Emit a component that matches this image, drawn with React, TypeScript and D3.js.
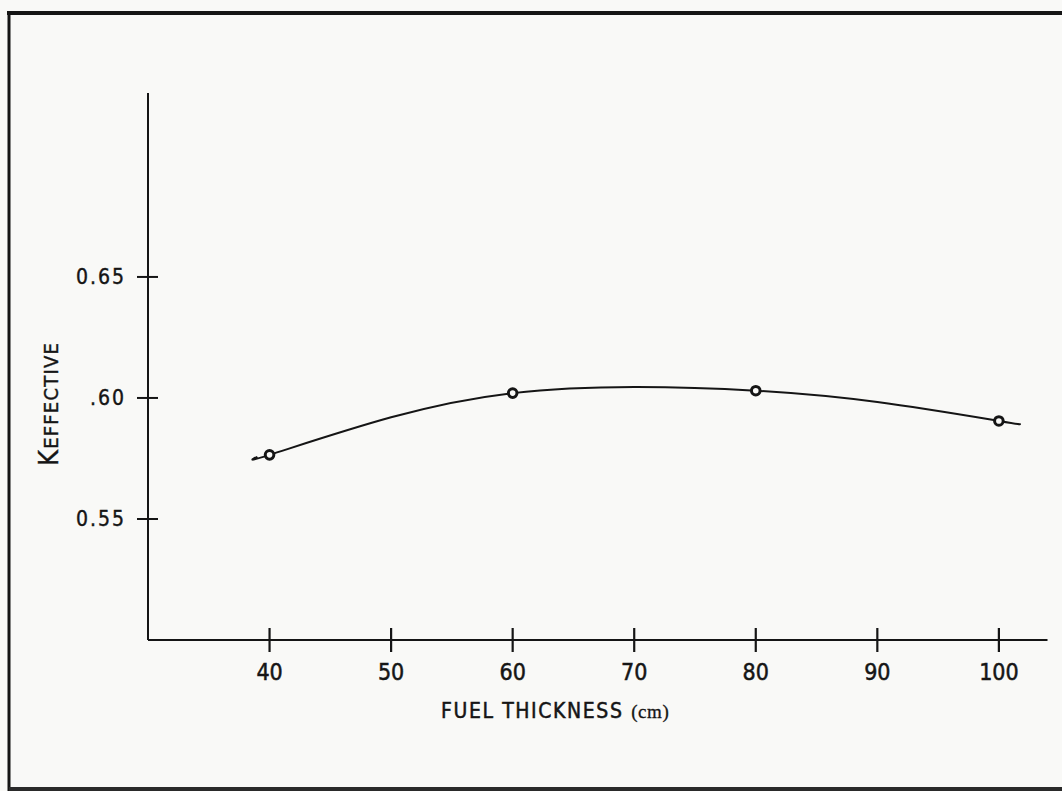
import React from 'react';
import * as d3 from 'd3';

// Fuel thickness (cm) vs K-effective
const thickness = [40, 60, 80, 100];
const keff = [0.5765, 0.602, 0.603, 0.5905];

// smooth curve drawn through the points
const curveX = [39.0, 40, 50, 60, 70, 80, 90, 100, 101.6];
const curveY = [0.5757, 0.5765, 0.592, 0.602, 0.6045, 0.603, 0.5983, 0.5905, 0.5893];

const xTicks = [40, 50, 60, 70, 80, 90, 100];
const yTicks = [0.55, 0.6, 0.65];
const yTickLabels = ['0.55', '.60', '0.65'];

const W = 1062;
const H = 791;
const INK = '#151515';
const FONT = '"DejaVu Sans Condensed", "DejaVu Sans", sans-serif';

const App: React.FC = () => {
  const x = d3.scaleLinear().domain([30, 104]).range([148, 1047.5]);
  const y = d3.scaleLinear().domain([0.5, 0.726]).range([640, 93]);

  const line = d3.line<number>()
    .x((d, i) => x(curveX[i]))
    .y(d => y(d))
    .curve(d3.curveNatural);

  const x0 = x(30);
  const y0 = y(0.5);

  return (
    <svg width={W} height={H} viewBox={`0 0 ${W} ${H}`}
      style={{ position: 'absolute', left: 0, top: 0, background: '#f9f9f7' }}>
      {/* page frame */}
      <line x1={7} y1={13} x2={W} y2={13} stroke={INK} strokeWidth={4} />
      <line x1={9} y1={12} x2={9} y2={H} stroke={INK} strokeWidth={3} />
      <line x1={9} y1={789} x2={W} y2={789} stroke="#2a2a2a" strokeWidth={4} />

      {/* axes */}
      <line x1={x0} y1={y(0.726)} x2={x0} y2={y0} stroke={INK} strokeWidth={2} />
      <line x1={x0} y1={y0} x2={x(104)} y2={y0} stroke={INK} strokeWidth={2} />

      {xTicks.map(t => (
        <g key={t}>
          <line x1={x(t)} x2={x(t)} y1={y0 - 12} y2={y0 + 12} stroke={INK} strokeWidth={2.2} />
          <text x={x(t)} y={680} textAnchor="middle" fontFamily={FONT} fontSize={23}
            fill={INK} stroke={INK} strokeWidth={0.5}>
            {t}
          </text>
        </g>
      ))}

      {yTicks.map((t, i) => (
        <g key={t}>
          <line x1={x0 - 11} x2={x0 + 10} y1={y(t)} y2={y(t)} stroke={INK} strokeWidth={2} />
          <text x={126} y={y(t) + 7.5} textAnchor="end" fontFamily={FONT} fontSize={21}
            letterSpacing={2} fill={INK} stroke={INK} strokeWidth={0.4}>
            {yTickLabels[i]}
          </text>
        </g>
      ))}

      {/* fitted curve */}
      <path d={line(curveY) || ''} fill="none" stroke={INK} strokeWidth={2} />

      {/* data points */}
      {thickness.map((t, i) => (
        <circle key={t} cx={x(t)} cy={y(keff[i])} r={4.3} fill="#f9f9f7" stroke={INK} strokeWidth={3} />
      ))}

      {/* axis titles */}
      <text x={441} y={718} fontFamily={FONT} fontSize={21} letterSpacing={1.6}
        fill={INK} stroke={INK} strokeWidth={0.5}>
        FUEL THICKNESS{' '}
        <tspan fontFamily='"Liberation Serif", serif' fontSize={19} letterSpacing={0.6} strokeWidth={0.3}>(cm)</tspan>
      </text>

      <text transform="translate(58,404) rotate(-90)" textAnchor="middle" fontFamily={FONT}
        letterSpacing={1.2} fill={INK} stroke={INK} strokeWidth={0.4}>
        <tspan fontSize={27}>K</tspan>
        <tspan fontSize={20}>EFFECTIVE</tspan>
      </text>
    </svg>
  );
};

export default App;
